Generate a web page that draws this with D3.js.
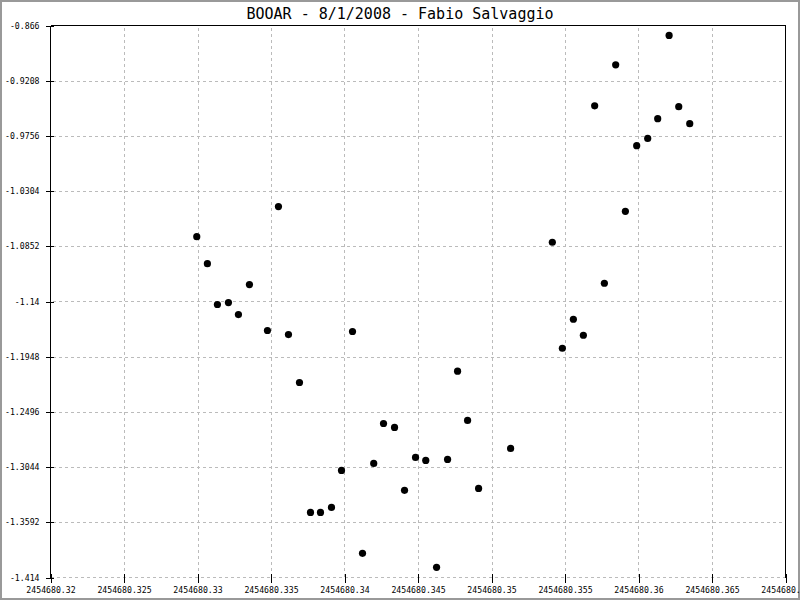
<!DOCTYPE html>
<html><head><meta charset="utf-8">
<script src="https://cdn.jsdelivr.net/npm/d3@7"></script>
<style>body{margin:0;background:#fff}svg{display:block}</style>
</head><body>
<svg id="c" width="800" height="600"></svg>
<script>
const title = "BOOAR - 8/1/2008 - Fabio Salvaggio";
const jd = [2454680.32995,2454680.330674,2454680.331355,2454680.332104,2454680.332784,2454680.333533,2454680.334758,2454680.335507,2454680.336188,2454680.336937,2454680.337686,2454680.338366,2454680.339115,2454680.339796,2454680.340545,2454680.341225,2454680.341988,2454680.342655,2454680.343404,2454680.344084,2454680.344833,2454680.345528,2454680.346263,2454680.347012,2454680.347692,2454680.348373,2454680.349122,2454680.3513,2454680.354139,2454680.35482,2454680.355569,2454680.356249,2454680.357018,2454680.357679,2454680.358448,2454680.359108,2454680.359877,2454680.360626,2454680.361307,2454680.362083,2454680.362737,2454680.363485];
const mag = [-1.0756,-1.1024,-1.1430,-1.1411,-1.1530,-1.1232,-1.1688,-1.0458,-1.1728,-1.2204,-1.3494,-1.3494,-1.3444,-1.3077,-1.1698,-1.3900,-1.3008,-1.2611,-1.2650,-1.3275,-1.2948,-1.2978,-1.4039,-1.2968,-1.2092,-1.2581,-1.3256,-1.2859,-1.0812,-1.1864,-1.1576,-1.1735,-0.9457,-1.1219,-0.9050,-1.0505,-0.9853,-0.9781,-0.9585,-0.8759,-0.9466,-0.9635];
const xTicks = [2454680.32,2454680.325,2454680.33,2454680.335,2454680.34,2454680.345,2454680.35,2454680.355,2454680.36,2454680.365,2454680.37];
const xTickLabels = ["2454680.32","2454680.325","2454680.33","2454680.335","2454680.34","2454680.345","2454680.35","2454680.355","2454680.36","2454680.365","2454680.37"];
const yTicks = [-0.866,-0.9208,-0.9756,-1.0304,-1.0852,-1.14,-1.1948,-1.2496,-1.3044,-1.3592,-1.414];
const yTickLabels = ["-0.866","-0.9208","-0.9756","-1.0304","-1.0852","-1.14","-1.1948","-1.2496","-1.3044","-1.3592","-1.414"];

const L = 50.5, R = 785.5, T = 25.5, B = 577.5;
const svg = d3.select("#c");
const font = "'DejaVu Sans Mono', monospace";
svg.append("rect").attr("x",1).attr("y",1).attr("width",798).attr("height",598)
  .attr("fill","#fff").attr("stroke","#999").attr("stroke-width",2);

const x = d3.scaleLinear().domain([xTicks[0], xTicks[xTicks.length-1]]).range([L, R]);
const y = d3.scaleLinear().domain([yTicks[0], yTicks[yTicks.length-1]]).range([T, B]);

const g = svg.append("g").attr("shape-rendering","crispEdges");
// grid
g.selectAll(".vg").data(xTicks.slice(1,-1)).enter().append("line")
  .attr("x1",d=>Math.round(x(d))+0.5).attr("x2",d=>Math.round(x(d))+0.5)
  .attr("y1",T+2).attr("y2",B).attr("stroke","#bbb").attr("stroke-dasharray","3,3");
g.selectAll(".hg").data(yTicks.slice(1,-1)).enter().append("line")
  .attr("y1",d=>Math.round(y(d))+0.5).attr("y2",d=>Math.round(y(d))+0.5)
  .attr("x1",L+2).attr("x2",R).attr("stroke","#bbb").attr("stroke-dasharray","3,3");
g.append("line").attr("x1",L).attr("x2",R).attr("y1",B).attr("y2",B).attr("stroke","#bbb").attr("stroke-dasharray","3,3");

// frame
g.append("line").attr("x1",L).attr("x2",R).attr("y1",T).attr("y2",T).attr("stroke","#000");
g.append("line").attr("x1",R).attr("x2",R).attr("y1",T).attr("y2",B).attr("stroke","#000");
g.append("line").attr("x1",L).attr("x2",L).attr("y1",T).attr("y2",B+1).attr("stroke","#000");

// axes via d3
const xAxis = d3.axisBottom(x).tickValues(xTicks).tickFormat((d,i)=>xTickLabels[i]).tickSize(4).tickSizeOuter(0);
const xa = svg.append("g").attr("transform",`translate(0,${B-4})`).call(xAxis);
xa.select(".domain").remove();
xa.selectAll(".tick line").attr("y2",9).attr("stroke","#000").attr("shape-rendering","crispEdges");
xa.selectAll(".tick text").attr("y",14).attr("dy","0.71em").attr("font-family",font).attr("font-size","8.2px").attr("fill","#000");

const yAxis = d3.axisLeft(y).tickValues(yTicks).tickFormat((d,i)=>yTickLabels[i]).tickSize(5).tickSizeOuter(0);
const ya = svg.append("g").attr("transform",`translate(${L+3},0)`).call(yAxis);
ya.select(".domain").remove();
ya.selectAll(".tick line").attr("x2",-8).attr("stroke","#000").attr("shape-rendering","crispEdges");
ya.selectAll(".tick text").attr("x",-14).attr("font-family",font).attr("font-size","8.2px").attr("fill","#000");

// points
svg.append("g").selectAll("circle").data(jd).enter().append("circle")
  .attr("cx",(d)=>x(d)).attr("cy",(d,i)=>y(mag[i])).attr("r",3.6).attr("fill","#000");

// title
svg.append("text").attr("x",400).attr("y",18.5).attr("text-anchor","middle")
  .attr("font-family",font).attr("font-size","15px").attr("fill","#000").text(title);
</script>
</body></html>
